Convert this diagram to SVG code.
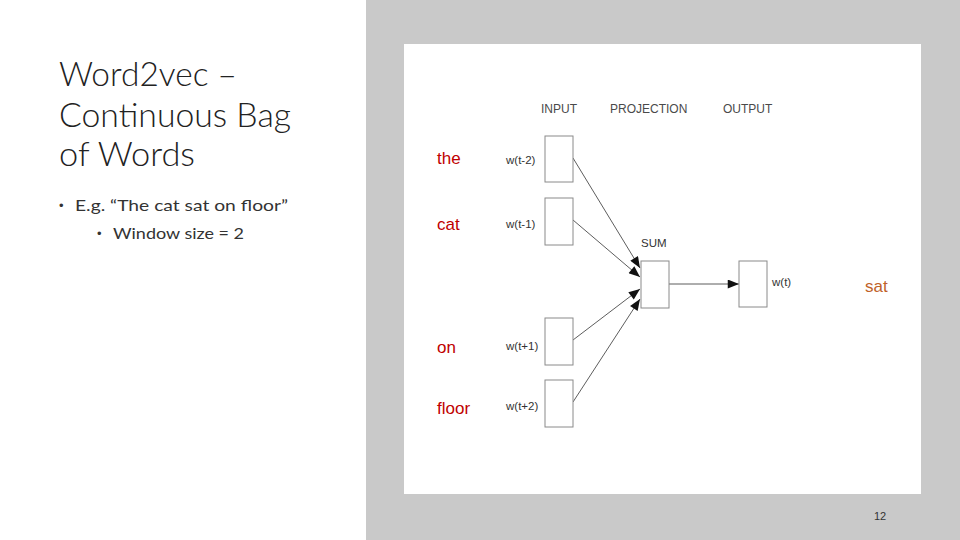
<svg xmlns="http://www.w3.org/2000/svg" width="960" height="540" viewBox="0 0 960 540">
<defs>
<style>
.title{font-family:Lato,"Liberation Sans",sans-serif;font-weight:300;font-size:34px;fill:#222}
.bul{font-family:Lato,"Liberation Sans",sans-serif;font-size:16px;fill:#333}
.dot{font-family:"Liberation Sans",sans-serif;font-size:13px;fill:#333}
.hdr{font-family:"Liberation Sans",Arial,sans-serif;font-size:12px;fill:#4a4a4a}
.lbl{font-family:"Liberation Sans",Arial,sans-serif;font-size:11.5px;fill:#333}
.word{font-family:"Liberation Sans",Arial,sans-serif;font-size:17px;fill:#c00000}
.box{fill:#fff;stroke:#8a8a8a;stroke-width:1}
.con{stroke:#333;stroke-width:0.8;fill:none;marker-end:url(#ah)}
</style>
<marker id="ah" viewBox="0 0 10 8" refX="10" refY="4" markerWidth="13" markerHeight="9" markerUnits="userSpaceOnUse" orient="auto">
<path d="M0,0 L10,4 L0,8 z" fill="#111"/>
</marker>
</defs>
<rect width="960" height="540" fill="#fff"/>
<rect x="366" y="0" width="594" height="540" fill="#c9c9c9"/>
<rect x="404" y="44" width="517" height="450" fill="#fff"/>

<g id="title">
<text class="title" x="59" y="86" textLength="178" lengthAdjust="spacingAndGlyphs">Word2vec –</text>
<text class="title" x="59" y="127" textLength="232" lengthAdjust="spacingAndGlyphs">Continuous Bag</text>
<text class="title" x="59" y="166" textLength="136" lengthAdjust="spacingAndGlyphs">of Words</text>
</g>
<g id="bullets">
<text class="dot" x="59" y="210">•</text>
<text class="bul" x="75" y="211" textLength="213" lengthAdjust="spacingAndGlyphs">E.g. “The cat sat on floor”</text>
<text class="dot" x="97" y="238">•</text>
<text class="bul" x="113" y="239" textLength="131" lengthAdjust="spacingAndGlyphs">Window size = 2</text>
</g>

<g id="headers">
<text class="hdr" x="541" y="113">INPUT</text>
<text class="hdr" x="610" y="113">PROJECTION</text>
<text class="hdr" x="723" y="113">OUTPUT</text>
</g>

<g id="connectors">
<line class="con" x1="573" y1="158" x2="640" y2="268"/>
<line class="con" x1="573" y1="220" x2="640" y2="277"/>
<line class="con" x1="573" y1="340" x2="640" y2="289"/>
<line class="con" x1="573" y1="402" x2="640" y2="299"/>
<line class="con" x1="669" y1="284" x2="739" y2="284"/>
</g>

<g id="in-the">
<text class="word" x="437" y="164">the</text>
<text class="lbl" x="506" y="164">w(t-2)</text>
<rect class="box" x="545" y="136" width="28" height="46"/>
</g>
<g id="in-cat">
<text class="word" x="437" y="230">cat</text>
<text class="lbl" x="506" y="228">w(t-1)</text>
<rect class="box" x="545" y="198" width="28" height="47"/>
</g>
<g id="in-on">
<text class="word" x="437" y="353">on</text>
<text class="lbl" x="506" y="350">w(t+1)</text>
<rect class="box" x="545" y="318" width="28" height="47"/>
</g>
<g id="in-floor">
<text class="word" x="437" y="414">floor</text>
<text class="lbl" x="506" y="410">w(t+2)</text>
<rect class="box" x="545" y="380" width="28" height="47"/>
</g>
<g id="projection">
<text class="lbl" x="641" y="247">SUM</text>
<rect class="box" x="641" y="261" width="28" height="47"/>
</g>
<g id="output">
<rect class="box" x="739" y="261" width="28" height="46"/>
<text class="lbl" x="772" y="286">w(t)</text>
<text class="word" x="865" y="292" style="fill:#c0622a">sat</text>
</g>

<text x="874" y="520" style="font-family:'Liberation Sans',Arial,sans-serif;font-size:11px;fill:#333">12</text>
</svg>
